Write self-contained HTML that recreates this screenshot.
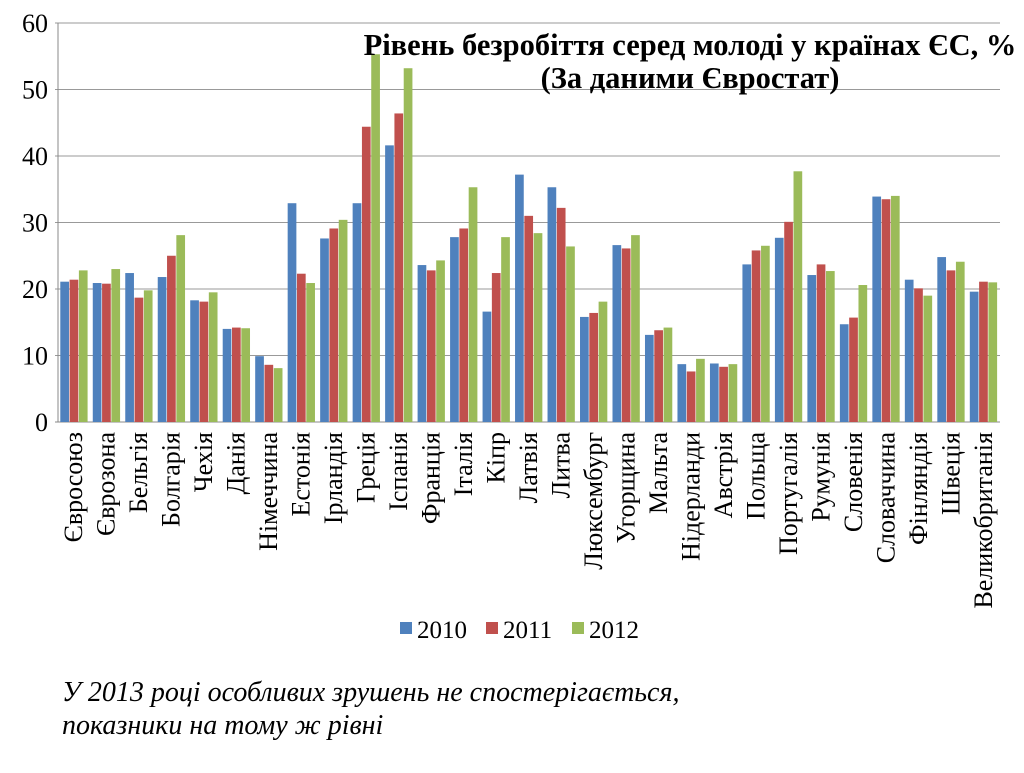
<!DOCTYPE html>
<html><head><meta charset="utf-8">
<style>
body{margin:0;background:#fff;width:1024px;height:768px;overflow:hidden;font-family:"Liberation Serif",serif;}
svg text{font-family:"Liberation Serif",serif;}
</style></head>
<body>
<svg id="chart" width="1024" height="768" xmlns="http://www.w3.org/2000/svg">
<g id="grid"></g>
<g id="bars"></g>
<g id="yticks"></g>
<g id="xticks"></g>
<text x="690" y="55" text-anchor="middle" font-size="30.5" font-weight="bold">Рівень безробіття серед молоді у країнах ЄС, %</text>
<text x="690" y="88" text-anchor="middle" font-size="30.5" font-weight="bold">(За даними Євростат)</text>
<g id="legend"></g>
<text x="62" y="701" font-size="28" font-style="italic">У 2013 році особливих зрушень не спостерігається,</text>
<text x="62" y="734" font-size="28" font-style="italic">показники на тому ж рівні</text>
</svg>
<script>
const categories=["Євросоюз","Єврозона","Бельгія","Болгарія","Чехія","Данія","Німеччина","Естонія","Ірландія","Греція","Іспанія","Франція","Італія","Кіпр","Латвія","Литва","Люксембург","Угорщина","Мальта","Нідерланди","Австрія","Польща","Португалія","Румунія","Словенія","Словаччина","Фінляндія","Швеція","Великобританія"];
const s2010=[21.1,20.9,22.4,21.8,18.3,14.0,9.9,32.9,27.6,32.9,41.6,23.6,27.8,16.6,37.2,35.3,15.8,26.6,13.1,8.7,8.8,23.7,27.7,22.1,14.7,33.9,21.4,24.8,19.6];
const s2011=[21.4,20.8,18.7,25.0,18.1,14.2,8.6,22.3,29.1,44.4,46.4,22.8,29.1,22.4,31.0,32.2,16.4,26.1,13.8,7.6,8.3,25.8,30.1,23.7,15.7,33.5,20.1,22.8,21.1];
const s2012=[22.8,23.0,19.8,28.1,19.5,14.1,8.1,20.9,30.4,55.3,53.2,24.3,35.3,27.8,28.4,26.4,18.1,28.1,14.2,9.5,8.7,26.5,37.7,22.7,20.6,34.0,19.0,24.1,21.0];
const seriesNames=["2010","2011","2012"];
const yTicks=[0,10,20,30,40,50,60];
const colors=["#4F81BD","#C0504D","#9BBB59"];
const NS="http://www.w3.org/2000/svg";
const x0=58,x1=1000,yBase=422,yTop=23,yMax=60;
const n=categories.length, step=(x1-x0)/n;
const yS=v=>yBase-(v/yMax)*(yBase-yTop);
function mk(tag,attrs,parent){const e=document.createElementNS(NS,tag);for(const k in attrs)e.setAttribute(k,attrs[k]);parent.appendChild(e);return e;}
const grid=document.getElementById('grid'),bars=document.getElementById('bars'),yt=document.getElementById('yticks'),xt=document.getElementById('xticks'),lg=document.getElementById('legend');
yTicks.forEach(t=>{
 const l=mk('line',{x1:x0-3,x2:x1,y1:yS(t),y2:yS(t),stroke:t===0?'#888':'#999','stroke-width':1},grid);
 
 
 const tx=mk('text',{x:x0-10,y:yS(t)+9,'text-anchor':'end','font-size':26},yt);
 tx.textContent=t;
 
 
});
mk('line',{x1:x0,x2:x0,y1:yTop,y2:yBase,stroke:'#888'},grid);
const series=[s2010,s2011,s2012];
const bw=9.3;
categories.forEach((c,i)=>{
 const cx=x0+step*(i+0.5);
 series.forEach((s,j)=>{
  const r=mk('rect',{x:cx+(j-1.5)*bw,y:yS(s[i]),width:bw-0.6,height:yBase-yS(s[i]),fill:colors[j]},bars);
  
  
 });
 const tx=mk('text',{x:0,y:0,'text-anchor':'end','font-size':26,transform:`translate(${cx+8},432) rotate(-90)`},xt);
 tx.textContent=c;
 
 
});
seriesNames.forEach((nm,j)=>{
 const lx=400+j*86;
 const r=mk('rect',{x:lx,y:622,width:12,height:12,fill:colors[j]},lg);
 
 
 const t=mk('text',{x:lx+17,y:638,'font-size':25},lg);
 t.textContent=nm;
 
 
});
</script>
</body></html>
